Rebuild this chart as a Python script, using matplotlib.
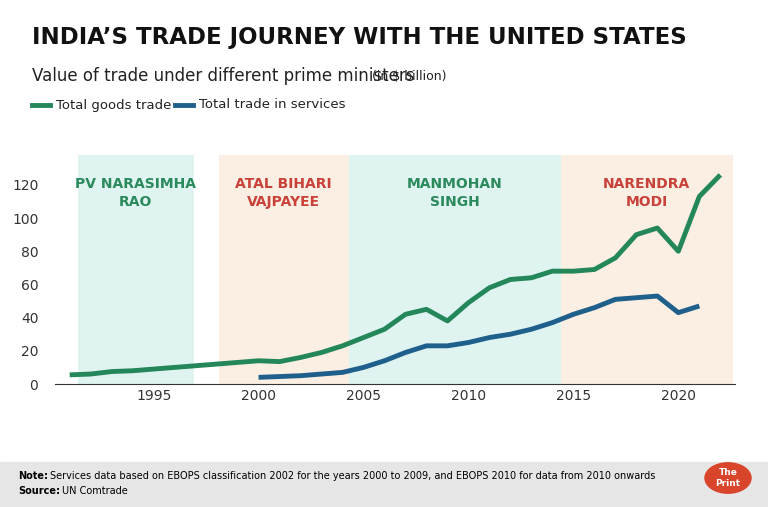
import matplotlib
matplotlib.use("Agg")
import matplotlib.pyplot as plt
from matplotlib.patches import Rectangle

goods_years = list(range(1991, 2023))
goods = [5.5, 6, 7.5, 8, 9, 10, 11, 12, 13, 14, 13.5, 16, 19, 23, 28, 33, 42, 45, 38, 49,
         58, 63, 64, 68, 68, 69, 76, 90, 94, 80, 113, 126]
serv_years = list(range(2000, 2022))
services = [4, 4.5, 5, 6, 7, 10, 14, 19, 23, 23, 25, 28, 30, 33, 37, 42, 46, 51, 52, 53, 43, 47]
pm_names = ["PV NARASIMHA\nRAO", "ATAL BIHARI\nVAJPAYEE", "MANMOHAN\nSINGH", "NARENDRA\nMODI"]
pm_spans = [(1991.4, 1996.9), (1998.1, 2004.3), (2004.3, 2014.4), (2014.4, 2022.6)]
band_colors = ["#dff3f1", "#fbeee2", "#dff3f1", "#fbeee2"]
name_colors = ["#2a8a5c", "#c8423a", "#2a8a5c", "#c8423a"]
xticks = [1995, 2000, 2005, 2010, 2015, 2020]
yticks = [0, 20, 40, 60, 80, 100, 120]

W, H = 768, 507
fig = plt.figure(figsize=(W/100, H/100), dpi=100)
ax = fig.add_axes([55/W, 1-384/H, 680/W, (384-155)/H])
ax.set_xlim(1990.3, 2022.7)
ax.set_ylim(0, 138)
for (a, b), c, n, nc in zip(pm_spans, band_colors, pm_names, name_colors):
    ax.add_patch(Rectangle((a, 0), b-a, 138, color=c, zorder=0, lw=0))
    ax.text((a+b)/2, 125, n, ha="center", va="top", color=nc, fontsize=10,
            fontweight="bold", linespacing=1.4)
ax.plot(goods_years, goods, color="#23875a", lw=3.5, zorder=3, solid_capstyle="butt")
ax.plot(serv_years, services, color="#1f5f8b", lw=3.5, zorder=3, solid_capstyle="butt")
for s in ["top", "right", "left"]:
    ax.spines[s].set_visible(False)
ax.spines["bottom"].set_color("#333333")
ax.set_xticks(xticks)
ax.set_yticks(yticks)
ax.tick_params(length=0, labelsize=10, colors="#333333")
ax.tick_params(axis="y", pad=12)

fig.text(32/W, 1-38/H, "INDIA\u2019S TRADE JOURNEY WITH THE UNITED STATES", fontsize=16.5,
         fontweight="bold", va="center", color="#111111")
fig.text(32/W, 1-76/H, "Value of trade under different prime ministers", fontsize=12,
         va="center", color="#222222")
fig.text(372/W, 1-77/H, "(in $ billion)", fontsize=9, va="center", color="#222222")
fig.lines.append(plt.Line2D([32/W, 50/W], [1-105/H]*2, color="#23875a", lw=3.5, transform=fig.transFigure))
fig.text(56/W, 1-105/H, "Total goods trade", fontsize=9.5, va="center", color="#222222")
fig.lines.append(plt.Line2D([175/W, 193/W], [1-105/H]*2, color="#1f5f8b", lw=3.5, transform=fig.transFigure))
fig.text(199/W, 1-105/H, "Total trade in services", fontsize=9.5, va="center", color="#222222")

fig.patches.append(Rectangle((0, 0), 1, 45/H, color="#e6e6e6", transform=fig.transFigure, zorder=0))
fig.text(18/W, 1-476/H, "Note:", fontsize=7, fontweight="bold", va="center")
fig.text(50/W, 1-476/H, "Services data based on EBOPS classification 2002 for the years 2000 to 2009, and EBOPS 2010 for data from 2010 onwards",
         fontsize=7, va="center")
fig.text(18/W, 1-491/H, "Source:", fontsize=7, fontweight="bold", va="center")
fig.text(62/W, 1-491/H, "UN Comtrade", fontsize=7, va="center")
fig.patches.append(plt.Circle((728/W, 1-478/H), 0.03, color="#d9452b", transform=fig.transFigure))
fig.text(728/W, 1-478/H, "The\nPrint", fontsize=6.5, color="white", fontweight="bold", ha="center", va="center")
fig.savefig("out.png", dpi=100)
